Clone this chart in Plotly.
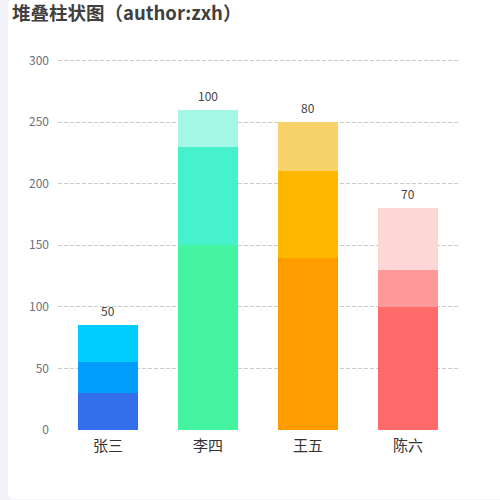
import plotly.graph_objects as go

categories = ["张三", "李四", "王五", "陈六"]
seg_bottom = [30, 150, 140, 100]
seg_middle = [25, 80, 70, 30]
seg_top = [30, 30, 40, 50]
top_labels = ["50", "100", "80", "70"]

colors_bottom = ["#336FEB", "#45F4A1", "#FF9C00", "#FF6B6B"]
colors_middle = ["#039DFB", "#45F2CC", "#FFB800", "#FF9999"]
colors_top = ["#00CCFF", "#A6F8E6", "#F8D36B", "#FED6D6"]

W, H = 500, 500
ML, MR, MT, MB = 58, 42, 58, 70
PW, PH = W - ML - MR, H - MT - MB


def px(x):
    return (x - ML) / PW


def py(y):
    return (H - MB - y) / PH


fig = go.Figure()
for vals, cols in [(seg_bottom, colors_bottom), (seg_middle, colors_middle), (seg_top, colors_top)]:
    fig.add_trace(go.Bar(x=categories, y=vals, marker=dict(color=cols, line=dict(width=0)),
                         width=0.6, hoverinfo="skip", showlegend=False))

totals = [a + b + c for a, b, c in zip(seg_bottom, seg_middle, seg_top)]
for cat, tot, lab in zip(categories, totals, top_labels):
    fig.add_annotation(x=cat, y=tot, text=lab, showarrow=False, yanchor="bottom", yshift=4,
                       font=dict(size=12, color="#444", family="Noto Sans CJK SC"))

# white rounded panel on lavender page
r = 5
x0, x1, y0, y1 = 8, 520, 0, 499
path = (f"M {px(x0 + r)},{py(y0)} L {px(x1)},{py(y0)} L {px(x1)},{py(y1)} L {px(x0 + r)},{py(y1)} "
        f"Q {px(x0)},{py(y1)} {px(x0)},{py(y1 - r)} L {px(x0)},{py(y0 + r)} "
        f"Q {px(x0)},{py(y0)} {px(x0 + r)},{py(y0)} Z")
fig.add_shape(type="path", path=path, xref="paper", yref="paper", fillcolor="white",
              line=dict(width=0), layer="below")

fig.update_layout(
    width=W, height=H,
    margin=dict(l=ML, r=MR, t=MT, b=MB),
    paper_bgcolor="#F2F3F8",
    plot_bgcolor="rgba(0,0,0,0)",
    barmode="stack",
    font=dict(family="Noto Sans CJK SC"),
    title=dict(text="<b>堆叠柱状图（author:zxh）</b>", x=12 / W, xanchor="left", y=1 - 14 / H, yanchor="middle",
               font=dict(size=18.5, color="#404040", family="Noto Sans CJK SC")),
    xaxis=dict(showgrid=False, zeroline=False, showline=False, ticks="", ticklabelstandoff=5,
               tickfont=dict(size=15, color="#333"), fixedrange=True),
    yaxis=dict(range=[0, 302], tickvals=[0, 50, 100, 150, 200, 250, 300], showgrid=True,
               gridcolor="#CCCCCC", griddash="4px,2px", gridwidth=1, zeroline=False, showline=False,
               ticks="", ticklabelstandoff=8, tickfont=dict(size=12, color="#6E7079"), fixedrange=True),
)

fig.write_html("out.html", config={"displayModeBar": False},
               post_script="document.body.style.margin='0';")
